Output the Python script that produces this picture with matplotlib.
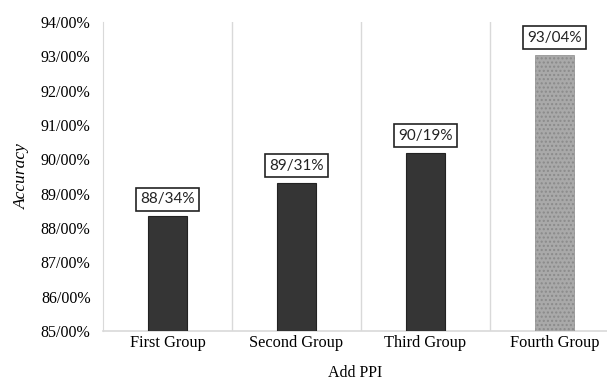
import numpy as np
import matplotlib.pyplot as plt

# Data
groups = ["First Group", "Second Group", "Third Group", "Fourth Group"]
accuracy = [88.34, 89.31, 90.19, 93.04]
value_labels = ["88/34%", "89/31%", "90/19%", "93/04%"]
ytick_values = [85, 86, 87, 88, 89, 90, 91, 92, 93, 94]
ytick_labels = ["%d/00%%" % v for v in ytick_values]
base = 85

fig = plt.figure(figsize=(6.07, 3.83), dpi=100)
ax = fig.add_axes([103 / 607, 1 - 331 / 383, (607 - 103) / 607, (331 - 22) / 383])

x = np.arange(len(groups))
heights = [v - base for v in accuracy]
ax.bar(x[:3], heights[:3], bottom=base, width=0.3, color="#353535",
       edgecolor="#222222", linewidth=0.8, zorder=3)
# last bar is stippled grey
ax.bar(x[3], heights[3], bottom=base, width=0.3, color="#a9a9a9",
       edgecolor="#8a8a8a", hatch="....", linewidth=0.5, zorder=3)

for xi, v, lab in zip(x, accuracy, value_labels):
    ax.text(xi, v + 0.5, lab, ha="center", va="center", fontsize=11,
            family="Lato", color="#222222",
            bbox=dict(boxstyle="square,pad=0.3", facecolor="white",
                      edgecolor="#222222", linewidth=1.2), zorder=4)

ax.set_ylim(85, 94)
ax.set_xlim(-0.5, 3.407)
ax.set_yticks(ytick_values)
ax.set_yticklabels(ytick_labels, family="Liberation Serif", fontsize=11.5)
ax.set_xticks(x)
ax.set_xticklabels(groups, family="Liberation Serif", fontsize=11.8)
ax.tick_params(axis="y", length=0, pad=9)
ax.tick_params(axis="x", length=0, pad=3)

# vertical separators between groups
for b in [0.5, 1.5, 2.5]:
    ax.axvline(b, color="#d9d9d9", linewidth=1, zorder=1)
for s in ["top", "right"]:
    ax.spines[s].set_visible(False)
ax.spines["left"].set_color("#d9d9d9")
ax.spines["bottom"].set_color("#d9d9d9")
ax.spines["bottom"].set_linewidth(1.2)

ax.set_ylabel("Accuracy", family="Liberation Serif", style="italic", fontsize=12.5, labelpad=8)
ax.set_xlabel("Add PPI", family="Liberation Serif", fontsize=11.5, labelpad=10)

fig.savefig("out.png", dpi=100)
